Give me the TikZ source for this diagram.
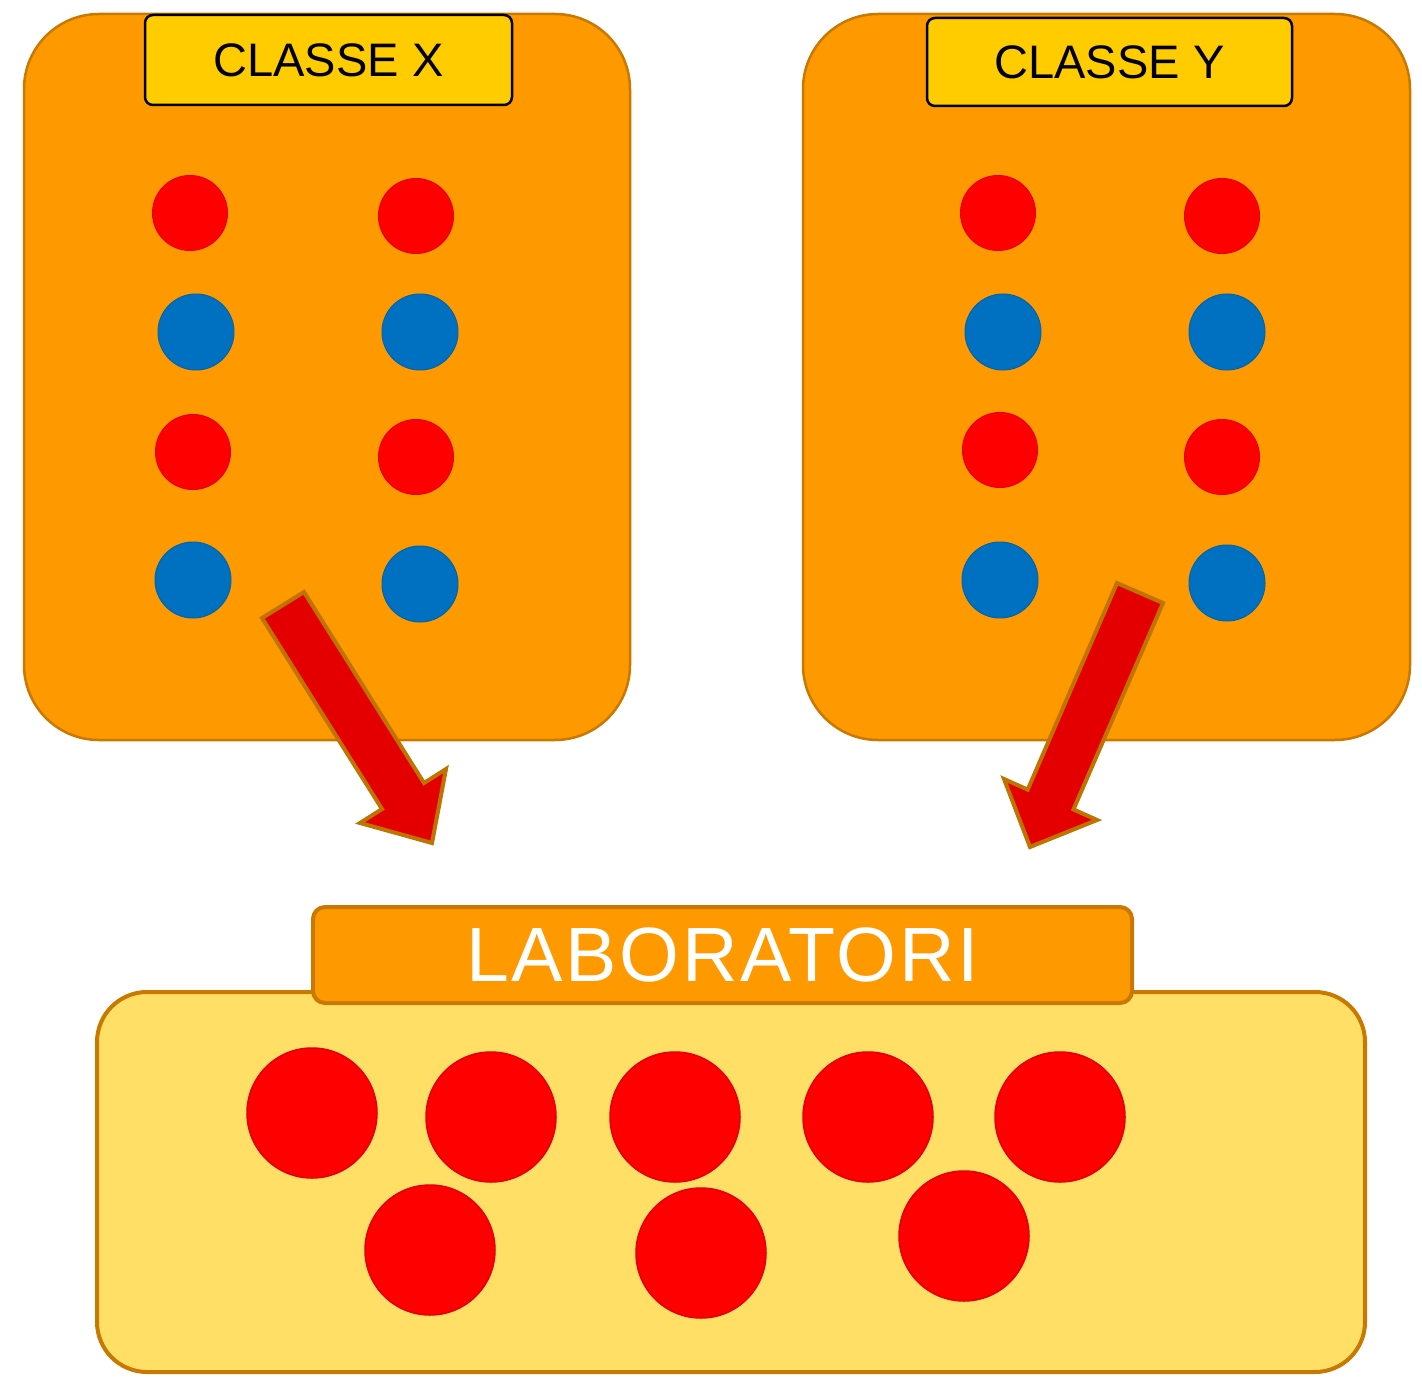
\documentclass[tikz,border=0pt]{standalone}
\usepackage{fontspec}
\setmainfont{Liberation Sans}
\newfontfamily\labfont[LetterSpace=3.4]{Liberation Sans}
\definecolor{boxorange}{HTML}{FF9900}
\definecolor{boxedge}{HTML}{C97800}
\definecolor{labelyel}{HTML}{FFCC00}
\definecolor{dotred}{HTML}{FF0000}
\definecolor{dotblue}{HTML}{0070C0}
\definecolor{arrred}{HTML}{E50000}
\definecolor{arredge}{HTML}{BF7300}
\definecolor{labyel}{HTML}{FFDF66}
\begin{document}
\begin{tikzpicture}[x=1pt,y=-1pt,
  classbox/.style={draw=boxedge,line width=2.5pt,fill=boxorange,rounded corners=75pt,inner sep=0pt},
  classlabel/.style={draw=black,line width=2.5pt,fill=labelyel,rounded corners=8pt,inner sep=0pt,font=\fontsize{47}{50}\selectfont},
  dotr/.style={circle,fill=dotred,draw=dotred!90!black,line width=1pt,minimum size=75pt,inner sep=0pt},
  dotb/.style={circle,fill=dotblue,draw=dotblue!90!black,line width=1pt,minimum size=76pt,inner sep=0pt},
  bigdot/.style={circle,fill=dotred,draw=dotred!88!black,line width=1.5pt,minimum size=130pt,inner sep=0pt},
  blockarrow/.style={fill=arrred,draw=arredge,line width=4pt,line join=miter},
]
\useasboundingbox (0,0) rectangle (1422,1383);

% class boxes
\node[classbox,minimum width=606pt,minimum height=726pt] (boxX) at (327,377) {};
\node[classbox,minimum width=607pt,minimum height=726pt] (boxY) at (1106.5,377) {};

% dots class X
\node[dotr] (x1) at (190,213) {};
\node[dotr] (x2) at (416,216) {};
\node[dotb] (x3) at (196,332) {};
\node[dotb] (x4) at (420,332) {};
\node[dotr] (x5) at (193,452) {};
\node[dotr] (x6) at (416,457) {};
\node[dotb] (x7) at (193,580) {};
\node[dotb] (x8) at (420,584) {};

% dots class Y
\node[dotr] (y1) at (998,213) {};
\node[dotr] (y2) at (1222,216) {};
\node[dotb] (y3) at (1003,332) {};
\node[dotb] (y4) at (1227,332) {};
\node[dotr] (y5) at (1000,450) {};
\node[dotr] (y6) at (1222,457) {};
\node[dotb] (y7) at (1000,580) {};
\node[dotb] (y8) at (1227,583) {};

% labels
\node[classlabel,minimum width=367pt,minimum height=90pt] (labX) at (328.5,60) {CLASSE X};
\node[classlabel,minimum width=365pt,minimum height=88pt] (labY) at (1109.5,62) {CLASSE Y};

% block arrows
\draw[blockarrow] (304,592) -- (424,783) -- (446,769) -- (432,843) -- (360,823) -- (382,809) -- (262,618) -- cycle;
\draw[blockarrow] (1163,603) -- (1073.5,809.4) -- (1097,820) -- (1030,847) -- (1004,779) -- (1027.7,789.6) -- (1117,583) -- cycle;

% laboratori box
\node[draw=boxedge,line width=4pt,fill=labyel,rounded corners=50pt,minimum width=1268pt,minimum height=380pt,inner sep=0pt] (lab) at (731,1182) {};
\node[draw=boxedge,line width=4pt,fill=boxorange,rounded corners=12pt,minimum width=819pt,minimum height=96pt,inner sep=0pt,text=white,font=\labfont\fontsize{77}{80}\selectfont] (labtitle) at (722.5,955) {LABORATORI};

% big dots
\node[bigdot] (b1) at (312,1113) {};
\node[bigdot] (b2) at (491,1117) {};
\node[bigdot] (b3) at (675,1117) {};
\node[bigdot] (b4) at (868,1117) {};
\node[bigdot] (b5) at (1060,1117) {};
\node[bigdot] (b6) at (430,1250) {};
\node[bigdot] (b7) at (701,1253) {};
\node[bigdot] (b8) at (964,1236) {};
\end{tikzpicture}
\end{document}
